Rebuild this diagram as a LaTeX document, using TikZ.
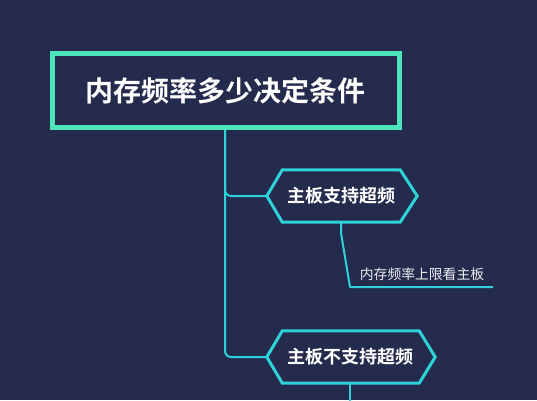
\documentclass[tikz,border=0pt]{standalone}
\usepackage{fontspec}
\newfontfamily\cjkbold{Noto Sans CJK SC Bold}
\newfontfamily\cjk{Noto Sans CJK SC}
\usetikzlibrary{calc}
\definecolor{bgc}{HTML}{252B4D}
\definecolor{mint}{HTML}{4DE6BA}
\definecolor{cyanl}{HTML}{2ED3D9}
\tikzset{
  titlebox/.style={draw=mint, line width=5pt, minimum width=346.5pt, minimum height=74pt, inner sep=0pt, text=white, font=\cjkbold\fontsize{28}{34}\selectfont},
  hexnode/.style={inner sep=0pt, minimum height=52pt},
  hextext/.style={inner sep=0pt, text=white, font=\cjkbold\fontsize{18}{22}\selectfont},
  hexline/.style={draw=cyanl, line width=3pt, line join=miter},
  conn/.style={draw=cyanl, line width=2pt, rounded corners=6pt},
  leafnode/.style={inner sep=0pt, text=white!92!bgc, font=\cjk\fontsize{13.8}{16}\selectfont}
}
\begin{document}
\begin{tikzpicture}[x=1pt,y=-1pt]
\fill[bgc] (0,0) rectangle (537,400);
\useasboundingbox (0,0) rectangle (537,400);
\clip (0,0) rectangle (537,400);
% nodes
\node[titlebox] (title) at (226,90.5) {};
\node[inner sep=0pt, text=white, font=\cjkbold\fontsize{28}{34}\selectfont] (tt) at (225,90.5) {内存频率多少决定条件};
\node[hexnode, minimum width=150pt] (h1) at (342,196) {};
\node[hexnode, minimum width=168pt] (h2) at (351,357) {};
\node[hextext] (t1) at (341,196) {主板支持超频};
\node[hextext] (t2) at (350,357) {主板不支持超频};
\node[leafnode] (leaf) at (422,274) {内存频率上限看主板};
\coordinate (l1k) at (341,233);
\coordinate (l1a) at (350,287);
\coordinate (l1b) at (493,287);
\coordinate (e2) at (350,402);
% hexagons
\draw[hexline] (h1.west) -- ($(h1.north west)+(15.5,0)$) -- ($(h1.north east)+(-17,0)$) -- (h1.east) -- ($(h1.south east)+(-17,0)$) -- ($(h1.south west)+(15.5,0)$) -- cycle;
\draw[hexline] (h2.west) -- ($(h2.north west)+(15.5,0)$) -- ($(h2.north east)+(-16,0)$) -- (h2.east) -- ($(h2.south east)+(-16,0)$) -- ($(h2.south west)+(15.5,0)$) -- cycle;
% connectors
\draw[conn] ([xshift=-1pt]title.south) |- (h1.west);
\draw[conn] ([xshift=-1pt]title.south) |- (h2.west);
\draw[draw=cyanl, line width=2pt, line join=round] ([xshift=-1pt]h1.south) -- (l1k) -- (l1a) -- (l1b);
\draw[draw=cyanl, line width=2pt] ([xshift=-1pt]h2.south) -- (e2);
\end{tikzpicture}
\end{document}
